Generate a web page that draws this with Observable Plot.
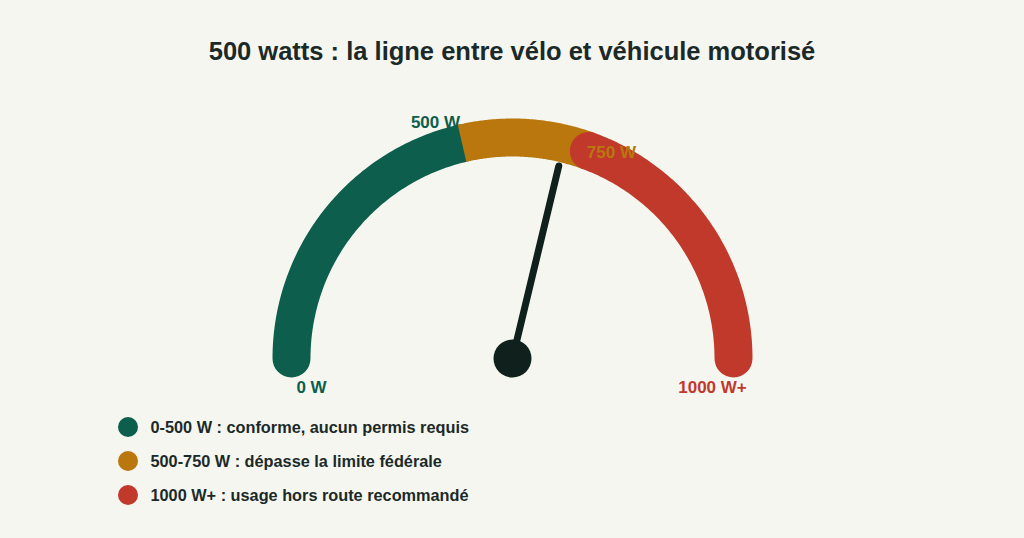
<!DOCTYPE html>
<html>
<head>
<meta charset="utf-8">
<script src="https://cdn.jsdelivr.net/npm/d3@7"></script>
<script src="https://cdn.jsdelivr.net/npm/@observablehq/plot@0.6"></script>
<style>
  html, body { margin: 0; padding: 0; background: #f6f6f1; }
  body { width: 1024px; height: 538px; overflow: hidden; font-family: "Liberation Sans", Arial, sans-serif; }
  #title { height: 96px; box-sizing: border-box; padding-top: 38px; margin: 0; font-size: 25.5px; line-height: 26px; font-weight: bold; text-align: center; color: #1b2a28; }
  #chart { height: 310px; }
  #legend { padding-top: 4px; padding-left: 118px; }
  .item { display: flex; align-items: center; height: 34px; font-size: 16.3px; font-weight: bold; color: #1b2a28; }
  .sw { width: 20px; height: 20px; border-radius: 50%; margin-right: 12.5px; flex: none; }
</style>
</head>
<body>
<div id="title"></div>
<div id="chart"></div>
<div id="legend"></div>
<script>
// ---- data ----
const title = "500 watts : la ligne entre vélo et véhicule motorisé";
const segNames = ["0-500 W : conforme, aucun permis requis", "500-750 W : dépasse la limite fédérale", "1000 W+ : usage hors route recommandé"];
const segStart = [0, 500, 750];
const segEnd = [500, 750, 1000];
const segColors = ["#0d5e4c", "#b9770e", "#c0392b"];
const tickValues = [0, 500, 750, 1000];
const tickLabels = ["0 W", "500 W", "750 W", "1000 W+"];
const needleValue = 700;

// ---- gauge geometry ----
const R = 221;          // band centre radius
const BAND = 38;        // band thickness
const NEEDLE = 198;     // needle length
// gauge value -> angle (degrees, math convention)
const angle = d3.scaleLinear().domain([0, 500, 750, 1000]).range([180, 103.2, 69.8, 0]);
const px = (v, r) => r * Math.cos(angle(v) * Math.PI / 180);
const py = (v, r) => r * Math.sin(angle(v) * Math.PI / 180);

document.getElementById("title").textContent = title;

const caps = ["round", "butt", "round"];
const segMarks = segStart.map((s, i) => {
  const pts = d3.range(0, 101).map(k => {
    const v = s + (segEnd[i] - s) * k / 100;
    return {x: px(v, R), y: py(v, R)};
  });
  return Plot.line(pts, {x: "x", y: "y", stroke: segColors[i], strokeWidth: BAND, strokeLinecap: caps[i], curve: "linear"});
});

const labelColors = [segColors[0], segColors[0], segColors[1], segColors[2]];
const labelAnchor = ["middle", "end", "start", "middle"];
const labelDx = [20, -2, -2, -21];
const labelDy = [29, -21, 1.5, 29];
const labelMarks = tickValues.map((v, i) =>
  Plot.text([{x: px(v, R), y: py(v, R), t: tickLabels[i]}], {
    x: "x", y: "y", text: "t", fill: labelColors[i], textAnchor: labelAnchor[i],
    dx: labelDx[i], dy: labelDy[i], fontSize: 17, fontWeight: "bold"
  })
);

const chart = Plot.plot({
  width: 1024,
  height: 310,
  margin: 0,
  x: {domain: [-512, 512], axis: null},
  y: {domain: [-48, 262], axis: null},
  style: {background: "transparent", fontFamily: "'Liberation Sans', Arial, sans-serif", overflow: "visible"},
  marks: [
    ...segMarks,
    ...labelMarks,
    Plot.link([{x1: 0, y1: 0, x2: px(needleValue, NEEDLE), y2: py(needleValue, NEEDLE)}], {
      x1: "x1", y1: "y1", x2: "x2", y2: "y2", stroke: "#10201c", strokeWidth: 7, strokeLinecap: "round"
    }),
    Plot.dot([{x: 0, y: 0}], {x: "x", y: "y", r: 19, fill: "#10201c", stroke: "none"})
  ]
});
document.getElementById("chart").appendChild(chart);

const legend = document.getElementById("legend");
segNames.forEach((name, i) => {
  const row = document.createElement("div");
  row.className = "item";
  const sw = document.createElement("span");
  sw.className = "sw";
  sw.style.background = segColors[i];
  const tx = document.createElement("span");
  tx.textContent = name;
  row.appendChild(sw);
  row.appendChild(tx);
  legend.appendChild(row);
});
</script>
</body>
</html>
